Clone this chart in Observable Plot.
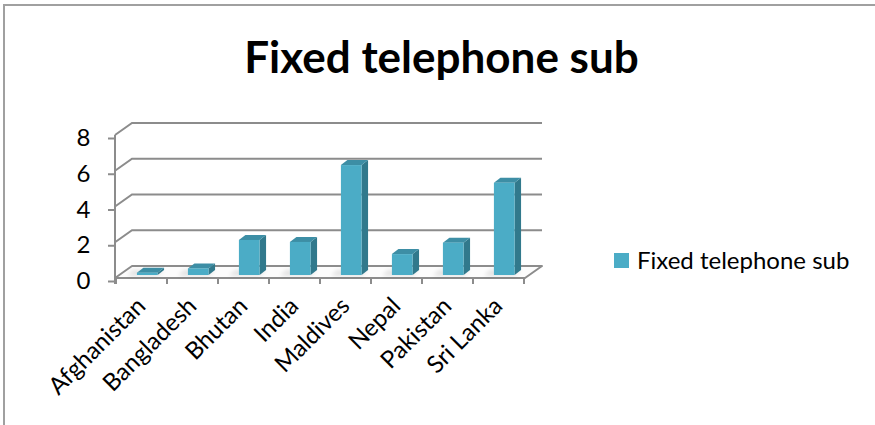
<!DOCTYPE html>
<html>
<head>
<meta charset="utf-8">
<script src="https://cdn.jsdelivr.net/npm/d3@7"></script>
<script src="https://cdn.jsdelivr.net/npm/@observablehq/plot@0.6"></script>
<style>
  body { margin: 0; background: #fff; }
  #wrap { position: relative; width: 875px; height: 425px; overflow: hidden; font-family: Lato, sans-serif; }
  #frame { position: absolute; left: 3px; top: 4px; width: 890px; height: 440px; border-left: 2px solid #a0a0a0; border-top: 2px solid #a0a0a0; }
  #chart { position: absolute; left: 0; top: 0; }
  #title { position: absolute; left: 0; top: 34px; width: 883px; text-align: center; font-weight: bold; font-size: 44px; line-height: 44px; color: #000; white-space: nowrap; }
  #legend { position: absolute; left: 614px; top: 248px; display: flex; align-items: center; font-size: 24px; line-height: 24px; color: #000; white-space: nowrap; }
  #legend .sw { width: 15px; height: 15px; margin-right: 8px; }
</style>
</head>
<body>
<div id="wrap">
  <div id="frame"></div>
  <div id="chart"></div>
  <div id="title"></div>
  <div id="legend"></div>
</div>
<script>
// ---- data ----
const categories = ["Afghanistan", "Bangladesh", "Bhutan", "India", "Maldives", "Nepal", "Pakistan", "Sri Lanka"];
const values = [0.13, 0.37, 1.96, 1.85, 6.15, 1.17, 1.81, 5.16];
const yTicks = [0, 2, 4, 6, 8];
const seriesName = "Fixed telephone sub";
const chartTitle = "Fixed telephone sub";

// ---- style ----
const gridColor = "#8c8c8c";
const frontColor = "#4bacc6";
const sideColor = "#31798c";
const topColor = "#3d8ea5";
const DX = 17, DY = -12;       // depth of the 3D box
const BDX = 6.5, BDY = -5;     // depth of a bar

const rows = categories.map((c, i) => ({category: c, value: values[i]}));

// back wall, floor, diagonals, category ticks
function walls(index, scales, vals, dims) {
  const {x, y} = scales;
  const g = d3.create("svg:g");
  const x0 = dims.marginLeft, x1 = dims.width - dims.marginRight;
  const y0 = y(0);
  g.append("path")
    .attr("d", `M${x0},${y0}L${x1},${y0}L${x1 + DX},${y0 + DY}L${x0 + DX},${y0 + DY}Z`)
    .attr("fill", "#fcfcfc").attr("stroke", gridColor).attr("stroke-width", 2).attr("stroke-linejoin", "round");
  for (const t of yTicks) {
    if (t === 0) continue;
    const yt = y(t);
    g.append("path")
      .attr("d", `M${x0},${yt}L${x0 + DX},${yt + DY}L${x1 + DX},${yt + DY}`)
      .attr("fill", "none").attr("stroke", gridColor).attr("stroke-width", 2);
  }
  // vertical axis line
  g.append("line").attr("x1", x0).attr("x2", x0).attr("y1", y(yTicks[yTicks.length - 1])).attr("y2", y0 + 6)
    .attr("stroke", gridColor).attr("stroke-width", 2);
  // category boundary ticks
  const edges = categories.map(c => x(c)).concat([x(categories[categories.length - 1]) + x.bandwidth()]);
  for (const e of edges) {
    g.append("line").attr("x1", e).attr("x2", e).attr("y1", y0).attr("y2", y0 + 6)
      .attr("stroke", gridColor).attr("stroke-width", 2);
  }
  return g.node();
}

// 3D bars
function bars(index, scales, vals, dims) {
  const {x, y} = scales;
  const g = d3.create("svg:g");
  const defs = g.append("defs");
  defs.append("filter").attr("id", "blur").attr("x", "-50%").attr("y", "-50%").attr("width", "200%").attr("height", "200%")
    .append("feGaussianBlur").attr("stdDeviation", 2.2);
  const bw = x.bandwidth();
  const w = bw * 0.405;
  rows.forEach(d => {
    const left = x(d.category) + bw * 0.41;
    const base = y(0) - 3;
    const top = y(d.value) - 3;
    // soft floor shadow
    g.append("path")
      .attr("d", `M${left - 10},${base + 1}L${left + w},${base + 1}L${left + w + BDX},${base + BDY}L${left - 4},${base + BDY}Z`)
      .attr("fill", "#000").attr("opacity", 0.1).attr("filter", "url(#blur)");
    // side face
    g.append("path")
      .attr("d", `M${left + w},${base}L${left + w + BDX},${base + BDY}L${left + w + BDX},${top + BDY}L${left + w},${top}Z`)
      .attr("fill", sideColor);
    // top face
    g.append("path")
      .attr("d", `M${left},${top}L${left + w},${top}L${left + w + BDX},${top + BDY}L${left + BDX},${top + BDY}Z`)
      .attr("fill", topColor);
    // front face
    g.append("rect").attr("x", left).attr("y", top).attr("width", w).attr("height", base - top)
      .attr("fill", frontColor);
  });
  return g.node();
}

const chart = Plot.plot({
  width: 875,
  height: 425,
  marginLeft: 115,
  marginRight: 350,
  marginTop: 135,
  marginBottom: 147,
  style: {fontFamily: "Lato, sans-serif", background: "transparent", color: "#000"},
  x: {type: "band", domain: categories, padding: 0, axis: null},
  y: {type: "linear", domain: [0, 8], axis: null},
  marks: [
    walls,
    Plot.axisY({ticks: yTicks, tickSize: 7, tickPadding: 18, fontSize: 24, dy: 3, stroke: gridColor, strokeWidth: 2, fill: "#000", label: null}),
    bars,
    Plot.text(categories, {x: d => d, frameAnchor: "bottom", rotate: -45, textAnchor: "end", fontSize: 24, dx: 5, dy: 29, fill: "#000"})
  ]
});
document.getElementById("chart").appendChild(chart);

document.getElementById("title").textContent = chartTitle;
const leg = document.getElementById("legend");
const sw = document.createElement("div");
sw.className = "sw";
sw.style.background = frontColor;
const lt = document.createElement("span");
lt.textContent = seriesName;
leg.appendChild(sw);
leg.appendChild(lt);
</script>
</body>
</html>
